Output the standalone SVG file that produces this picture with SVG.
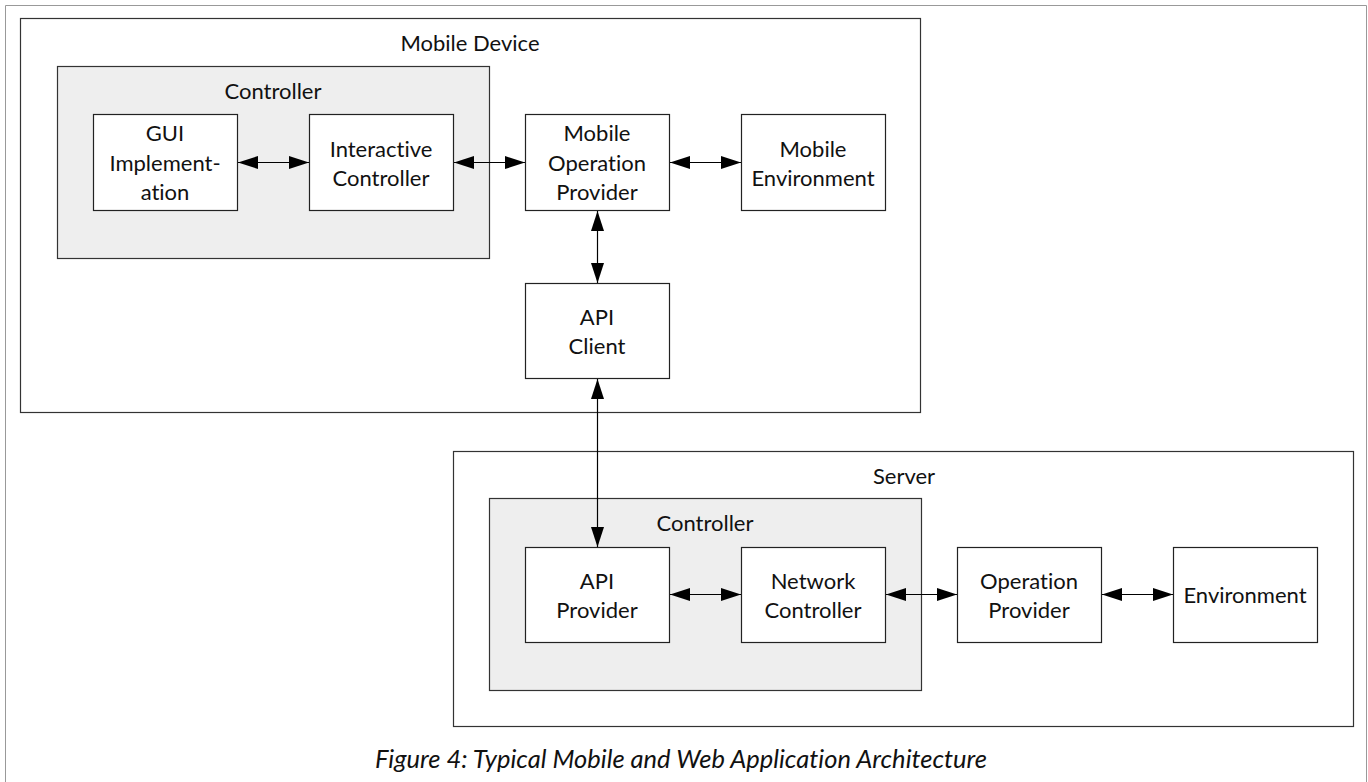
<svg xmlns="http://www.w3.org/2000/svg" width="1368" height="782" viewBox="0 0 1368 782">
<style>
text{font-family:"Lato","Noto Sans",sans-serif;font-size:22px;fill:#111;text-anchor:middle;font-variant-ligatures:none;font-feature-settings:"liga" 0,"dlig" 0}
.frame{fill:none;stroke:#999;stroke-width:1}
.container{fill:#fff;stroke:#333;stroke-width:1.2}
.group{fill:#eeeeee;stroke:#333;stroke-width:1.2}
.box{fill:#fff;stroke:#222;stroke-width:1.2}
.conn{stroke:#000;stroke-width:1.2;fill:none;marker-start:url(#ah);marker-end:url(#ah)}
.cap{font-style:italic;font-size:25.5px}
</style>
<defs>
<marker id="ah" viewBox="0 0 20 13" refX="20" refY="6.5" markerWidth="20" markerHeight="13" markerUnits="userSpaceOnUse" orient="auto-start-reverse">
<path d="M0,0 L20,6.5 L0,13 Z" fill="#000"/>
</marker>
</defs>
<rect width="1368" height="782" fill="#fff"/>
<path class="frame" d="M5.5,782 V5.5 H1366.5 V782"/>

<g id="mobile-device">
<rect class="container" x="20.5" y="18.5" width="900" height="394"/>
<text x="470" y="51">Mobile Device</text>
</g>
<g id="mobile-controller">
<rect class="group" x="57.5" y="66.5" width="432" height="192"/>
<text x="273" y="99">Controller</text>
</g>
<g id="gui-implementation">
<rect class="box" x="93.5" y="114.5" width="144" height="96"/>
<text x="165" y="141">GUI</text>
<text x="165" y="171">Implement-</text>
<text x="165" y="200">ation</text>
</g>
<g id="interactive-controller">
<rect class="box" x="309.5" y="114.5" width="144" height="96"/>
<text x="381" y="157">Interactive</text>
<text x="381" y="186">Controller</text>
</g>
<g id="mobile-operation-provider">
<rect class="box" x="525.5" y="114.5" width="144" height="96"/>
<text x="597" y="141">Mobile</text>
<text x="597" y="171">Operation</text>
<text x="597" y="200">Provider</text>
</g>
<g id="mobile-environment">
<rect class="box" x="741.5" y="114.5" width="144" height="96"/>
<text x="813" y="157">Mobile</text>
<text x="813" y="186">Environment</text>
</g>
<g id="api-client">
<rect class="box" x="525.5" y="283.5" width="144" height="95"/>
<text x="597" y="325">API</text>
<text x="597" y="354">Client</text>
</g>

<g id="server">
<rect class="container" x="453.5" y="451.5" width="900" height="275"/>
<text x="904" y="484">Server</text>
</g>
<g id="server-controller">
<rect class="group" x="489.5" y="498.5" width="432" height="192"/>
<text x="705" y="531">Controller</text>
</g>
<g id="api-provider">
<rect class="box" x="525.5" y="547.5" width="144" height="95"/>
<text x="597" y="589">API</text>
<text x="597" y="618">Provider</text>
</g>
<g id="network-controller">
<rect class="box" x="741.5" y="547.5" width="144" height="95"/>
<text x="813" y="589">Network</text>
<text x="813" y="618">Controller</text>
</g>
<g id="operation-provider">
<rect class="box" x="957.5" y="547.5" width="144" height="95"/>
<text x="1029" y="589">Operation</text>
<text x="1029" y="618">Provider</text>
</g>
<g id="environment">
<rect class="box" x="1173.5" y="547.5" width="144" height="95"/>
<text x="1245" y="603">Environment</text>
</g>

<g id="connectors">
<line class="conn" x1="238" y1="162.5" x2="309" y2="162.5"/>
<line class="conn" x1="454" y1="162.5" x2="525" y2="162.5"/>
<line class="conn" x1="670" y1="162.5" x2="741" y2="162.5"/>
<line class="conn" x1="597.5" y1="211" x2="597.5" y2="283"/>
<line class="conn" x1="597.5" y1="379" x2="597.5" y2="547"/>
<line class="conn" x1="670" y1="594.5" x2="741" y2="594.5"/>
<line class="conn" x1="886" y1="594.5" x2="957" y2="594.5"/>
<line class="conn" x1="1102" y1="594.5" x2="1173" y2="594.5"/>
</g>

<text class="cap" x="681" y="768">Figure 4: Typical Mobile and Web Application Architecture</text>
</svg>
